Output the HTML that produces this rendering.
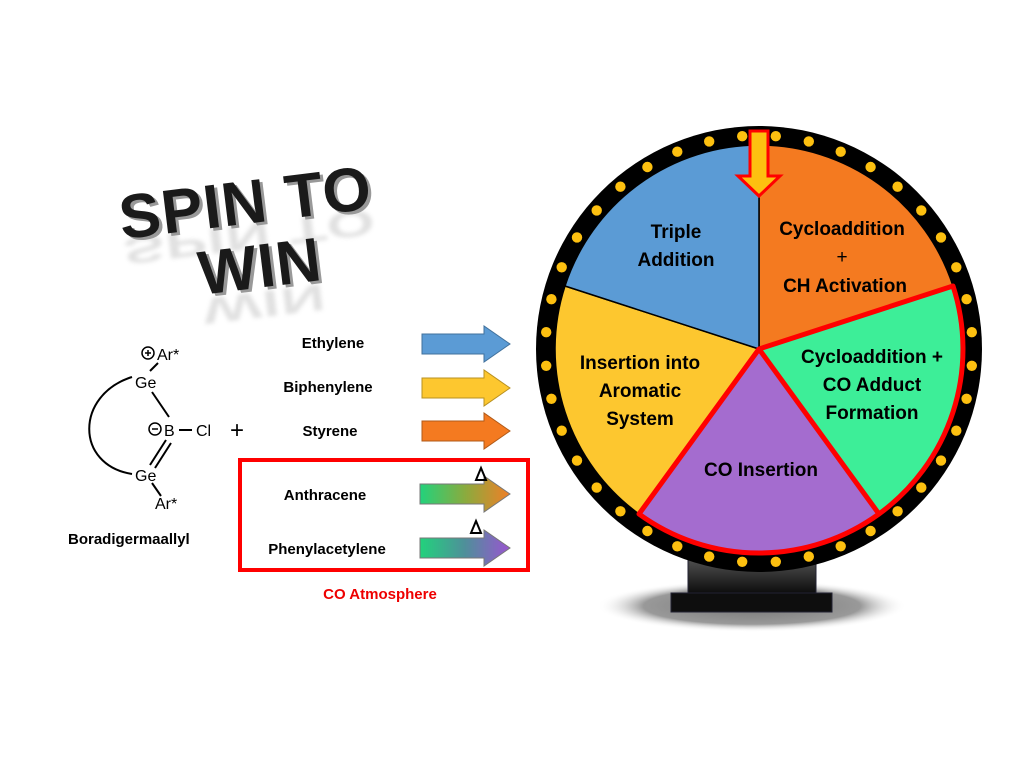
<!DOCTYPE html>
<html><head><meta charset="utf-8"><style>
html,body{margin:0;padding:0;background:#fff;}
svg{display:block;}
text{font-family:"Liberation Sans",sans-serif;font-weight:bold;}
.n{font-weight:normal;}
</style></head><body>
<svg width="1024" height="760" viewBox="0 0 1024 760" xmlns="http://www.w3.org/2000/svg">
<defs>
<linearGradient id="g1" x1="0" x2="1" y1="0" y2="0"><stop offset="0" stop-color="#22d27c"/><stop offset="0.5" stop-color="#8aab3e"/><stop offset="1" stop-color="#f07f27"/></linearGradient>
<linearGradient id="g2" x1="0" x2="1" y1="0" y2="0"><stop offset="0" stop-color="#22d27c"/><stop offset="0.5" stop-color="#4f8f9a"/><stop offset="1" stop-color="#9a55d0"/></linearGradient>
<linearGradient id="st" x1="0" x2="0" y1="0" y2="1"><stop offset="0" stop-color="#666"/><stop offset="1" stop-color="#0d0d0d"/></linearGradient>
<radialGradient id="sh"><stop offset="0" stop-color="#777"/><stop offset="0.7" stop-color="#999"/><stop offset="1" stop-color="#fff" stop-opacity="0"/></radialGradient>
<filter id="bl"><feGaussianBlur stdDeviation="2"/></filter>
<g id="q" fill="#fdc010">
 <circle cx="212.8" cy="16.8" r="5.2"/><circle cx="207.6" cy="49.8" r="5.2"/><circle cx="197.3" cy="81.7" r="5.2"/><circle cx="182" cy="111.6" r="5.2"/><circle cx="162.3" cy="138.6" r="5.2"/>
 <circle cx="138.6" cy="162.3" r="5.2"/><circle cx="111.6" cy="182" r="5.2"/><circle cx="81.7" cy="197.3" r="5.2"/><circle cx="49.8" cy="207.6" r="5.2"/><circle cx="16.8" cy="212.8" r="5.2"/>
</g>
</defs>

<!-- Title -->
<g transform="rotate(-7 235 200)">
 <g opacity="0.25" filter="url(#bl)">
  <text x="118" y="215" font-size="62" fill="#888" transform="scale(1,-0.6) translate(0,-590)" letter-spacing="1">SPIN TO</text>
  <text x="190" y="300" font-size="62" fill="#888" transform="scale(1,-0.6) translate(0,-790)" letter-spacing="1">WIN</text>
 </g>
 <text x="121" y="228" font-size="62" fill="#999" letter-spacing="1">SPIN TO</text>
 <text x="118" y="225" font-size="62" fill="#1a1a1a" letter-spacing="1">SPIN TO</text>
 <text x="193" y="293" font-size="62" fill="#999" letter-spacing="1">WIN</text>
 <text x="190" y="290" font-size="62" fill="#1a1a1a" letter-spacing="1">WIN</text>
</g>

<!-- Molecule -->
<g fill="#000">
 <circle cx="148" cy="353" r="6" fill="none" stroke="#000" stroke-width="1.5"/>
 <path d="M145 353h6M148 350v6" stroke="#000" stroke-width="1.5"/>
 <text class="n" x="157" y="360" font-size="16">Ar*</text>
 <text class="n" x="135" y="388" font-size="16">Ge</text>
 <text class="n" x="135" y="481" font-size="16">Ge</text>
 <text class="n" x="155" y="509" font-size="16">Ar*</text>
 <circle cx="155" cy="429" r="6" fill="none" stroke="#000" stroke-width="1.5"/>
 <path d="M152 429h6" stroke="#000" stroke-width="1.5"/>
 <text class="n" x="164" y="436" font-size="16">B</text>
 <text class="n" x="196" y="436" font-size="16">Cl</text>
 <path d="M179 430h13" stroke="#000" stroke-width="2"/>
 <path d="M158 363l-8 8M152 392l17 25M166 440l-16 25M171 443l-16 25M152 483l9 13" stroke="#000" stroke-width="2" fill="none"/>
 <path d="M132 377 C 75 395, 75 465, 132 474" stroke="#000" stroke-width="2" fill="none"/>
 <text class="n" x="230" y="438" font-size="24">+</text>
 <text x="68" y="544" font-size="15">Boradigermaallyl</text>
</g>

<!-- Labels -->
<g font-size="15" text-anchor="middle">
 <text x="333" y="348">Ethylene</text>
 <text x="328" y="392">Biphenylene</text>
 <text x="330" y="436">Styrene</text>
 <text x="325" y="500">Anthracene</text>
 <text x="327" y="554">Phenylacetylene</text>
 <text x="380" y="599" fill="#ee0000">CO Atmosphere</text>
</g>
<rect x="240" y="460" width="288" height="110" fill="none" stroke="#f00" stroke-width="4"/>
<g stroke="#41719c" stroke-width="1">
 <path d="M422 334h62v-8l26 18l-26 18v-8h-62z" fill="#5b9bd5"/>
 <path d="M422 378h62v-8l26 18l-26 18v-8h-62z" fill="#fdc72f" stroke="#b89020"/>
 <path d="M422 421h62v-8l26 18l-26 18v-8h-62z" fill="#f47a20" stroke="#b05a18"/>
 <path d="M420 484h64v-8l26 18l-26 18v-8h-64z" fill="url(#g1)" stroke="#777"/>
 <path d="M420 538h64v-8l26 18l-26 18v-8h-64z" fill="url(#g2)" stroke="#777"/>
</g>
<g fill="none" stroke="#000" stroke-width="2">
 <path d="M476 480l5-12l5 12z"/>
 <path d="M471 533l5-12l5 12z"/>
</g>

<!-- Stand -->
<ellipse cx="752" cy="606" rx="155" ry="26" fill="url(#sh)"/>
<rect x="688" y="548" width="128" height="45" fill="url(#st)" stroke="#223" stroke-width="1"/>
<rect x="671" y="593" width="161" height="19" fill="#0e0e0e" stroke="#223" stroke-width="1"/>

<!-- Wheel -->
<circle cx="759" cy="349" r="223" fill="#000"/>
<g stroke="#000" stroke-width="1.5">
 <path d="M759 349L759 145A204 204 0 0 1 953 286Z" fill="#f47a20"/>
 <path d="M759 349L953 286A204 204 0 0 1 879 514Z" fill="#3dee98"/>
 <path d="M759 349L879 514A204 204 0 0 1 639 514Z" fill="#a46ccf"/>
 <path d="M759 349L639 514A204 204 0 0 1 565 286Z" fill="#fdc72f"/>
 <path d="M759 349L565 286A204 204 0 0 1 759 145Z" fill="#5b9bd5"/>
</g>
<path d="M759 349L953 286A204 204 0 0 1 639 514Z" fill="none" stroke="#f00" stroke-width="5" stroke-linejoin="round"/>
<path d="M759 349L879 514" stroke="#f00" stroke-width="5"/>
<g transform="translate(759 349)">
 <use href="#q"/>
 <use href="#q" transform="scale(-1 1)"/>
 <use href="#q" transform="scale(1 -1)"/>
 <use href="#q" transform="scale(-1 -1)"/>
</g>
<path d="M750 131h18v45h12l-21 20l-21-20h12z" fill="#fdc010" stroke="#f00" stroke-width="3"/>

<g font-size="19" text-anchor="middle">
 <text x="676" y="238">Triple</text>
 <text x="676" y="266">Addition</text>
 <text x="842" y="235">Cycloaddition</text>
 <text class="n" x="842" y="263">+</text>
 <text x="845" y="292">CH Activation</text>
 <text x="872" y="363">Cycloaddition +</text>
 <text x="872" y="391">CO Adduct</text>
 <text x="872" y="419">Formation</text>
 <text x="640" y="369">Insertion into</text>
 <text x="640" y="397">Aromatic</text>
 <text x="640" y="425">System</text>
 <text x="761" y="476">CO Insertion</text>
</g>
</svg>
</body></html>
